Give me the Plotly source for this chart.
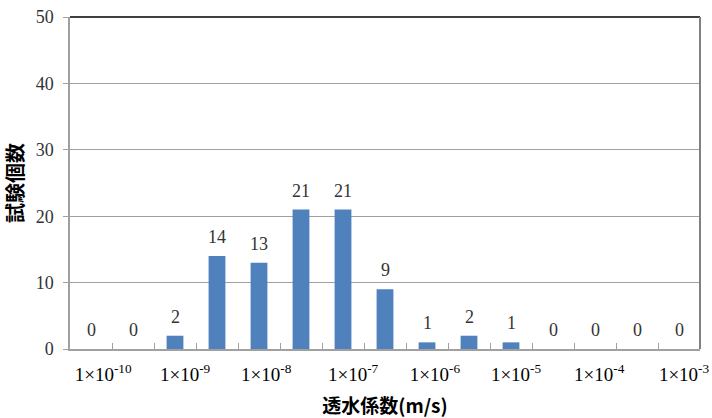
import plotly.graph_objects as go

categories = list(range(15))
counts = [0, 0, 2, 14, 13, 21, 21, 9, 1, 2, 1, 0, 0, 0, 0]
tick_positions = [0.29, 2.24, 4.17, 6.24, 8.19, 10.12, 12.1, 14.12]
tick_labels = ["1×10<sup>-10</sup>", "1×10<sup>-9</sup>", "1×10<sup>-8</sup>", "1×10<sup>-7</sup>",
               "1×10<sup>-6</sup>", "1×10<sup>-5</sup>", "1×10<sup>-4</sup>", "1×10<sup>-3</sup>"]
boundaries = [i + 0.5 for i in range(-1, 15)]

serif = "Liberation Serif"
fig = go.Figure()
fig.add_trace(go.Bar(x=categories, y=counts, width=0.4,
                     marker=dict(color="#4F81BD", line=dict(width=0)),
                     xaxis="x", yaxis="y", showlegend=False, hoverinfo="skip"))
# invisible trace to bind the label axis
fig.add_trace(go.Scatter(x=[-0.5, 14.5], y=[0, 0], mode="markers", marker=dict(opacity=0),
                         xaxis="x2", yaxis="y", showlegend=False, hoverinfo="skip"))

for c, v in zip(categories, counts):
    fig.add_annotation(x=c, y=v, text=str(v), showarrow=False, yanchor="bottom", yshift=7,
                       font=dict(family=serif, size=18, color="#333333"))

fig.update_layout(
    width=712, height=418,
    margin=dict(l=70, r=12, t=17, b=69, autoexpand=False),
    plot_bgcolor="white", paper_bgcolor="white",
    xaxis=dict(range=[-0.5, 14.5], tickmode="array", tickvals=boundaries, ticktext=[""] * len(boundaries),
               ticks="inside", ticklen=6, tickcolor="#A0A0A0", showgrid=False, automargin=False,
               showline=True, linecolor="#A0A0A0", linewidth=1.5, zeroline=False,
               title=dict(text="<b>透水係数(m/s)</b>", font=dict(family="Noto Sans CJK JP", size=19, color="black"),
                          standoff=50)),
    xaxis2=dict(range=[-0.5, 14.5], overlaying="x", side="bottom", tickmode="array", automargin=False,
                tickvals=tick_positions, ticktext=tick_labels, ticks="", showgrid=False,
                showline=False, zeroline=False, ticklabelstandoff=12, ticklabeloverflow="allow",
                tickfont=dict(family=serif, size=19, color="black")),
    yaxis=dict(range=[0, 50], tickvals=[0, 10, 20, 30, 40, 50], ticks="outside", ticklen=5,
               tickcolor="#A0A0A0", showgrid=True, gridcolor="#A0A0A0", gridwidth=1, automargin=False,
               showline=True, linecolor="#A0A0A0", linewidth=1.5, zeroline=False, ticklabeloverflow="allow",
               tickfont=dict(family=serif, size=18, color="#333333"), ticklabelstandoff=6,
               title=dict(text="<b>試験個数</b>", font=dict(family="Noto Sans CJK JP", size=20, color="black"),
                          standoff=8)),
    shapes=[
        dict(type="line", xref="paper", yref="paper", x0=0, x1=1, y0=1, y1=1, line=dict(color="black", width=1.5)),
        dict(type="line", xref="paper", yref="paper", x0=1, x1=1, y0=0, y1=1, line=dict(color="#808080", width=2)),
    ],
)

fig.write_html("out.html", config={"displayModeBar": False},
               post_script="document.body.style.margin='0';")
